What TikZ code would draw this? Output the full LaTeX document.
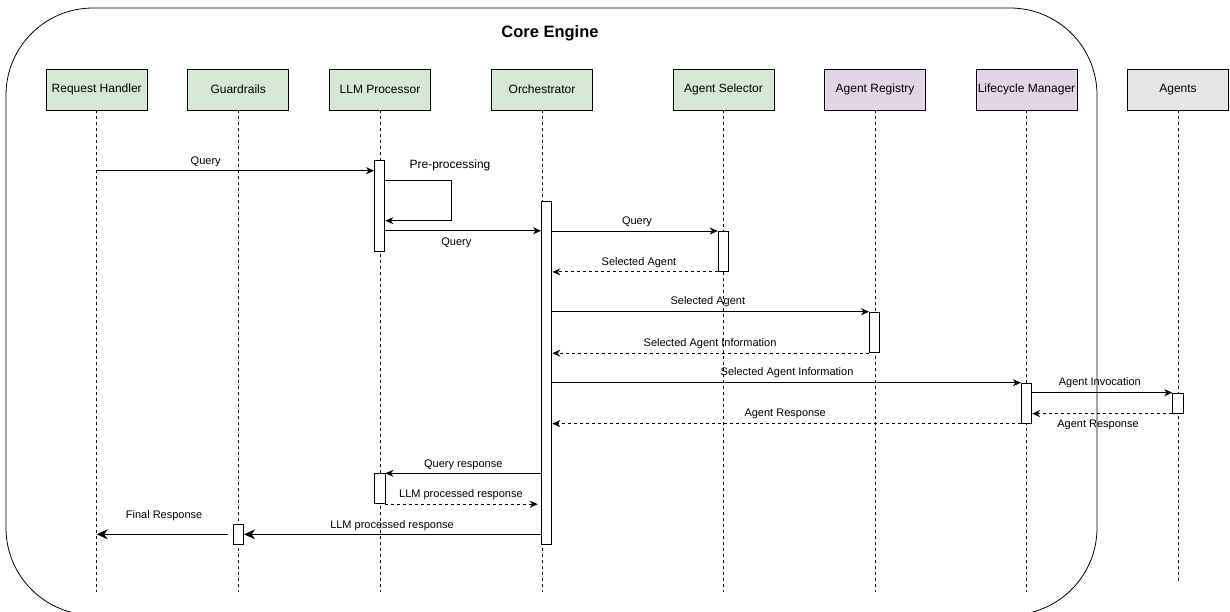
\documentclass[tikz,border=0pt]{standalone}
\usepackage{fontspec}
\setmainfont{Liberation Sans}
\usetikzlibrary{arrows.meta,
                positioning}
\definecolor{coregreen}{HTML}{D5E8D4}
\definecolor{mgmtpurple}{HTML}{E1D5E7}
\definecolor{extgray}{HTML}{E6E6E6}

\begin{document}
\begin{tikzpicture}[
x=1pt, y=-1pt, on grid,
line width=0.9pt,
actor/.style = {draw, minimum width=101pt, minimum height=41pt, inner sep=0pt,
                font=\fontsize{12}{14}\selectfont},
core/.style  = {actor, fill=coregreen},
mgmt/.style  = {actor, fill=mgmtpurple},
ext/.style   = {actor, fill=extgray},
life/.style  = {dash pattern=on 3pt off 3pt, line width=0.8pt},
act/.style   = {draw, fill=white, minimum width=10.3pt, inner sep=0pt, anchor=north},
msg/.style   = {-{Stealth[length=8pt, width=7pt, inset=2.5pt]}},
bigmsg/.style = {-{Stealth[length=11pt, width=10pt, inset=3.5pt]}},
reply/.style = {msg, dash pattern=on 3pt off 3pt},
lbl/.style   = {inner sep=0pt, font=\fontsize{11}{13}\selectfont}
                        ]
\useasboundingbox (0,0) rectangle (1230,611);
\node[draw, rounded corners=87pt, line width=0.8pt, minimum width=1091pt, minimum height=607pt]
    (engine) at (551.5,311.5) {};
\node[font=\bfseries\fontsize{16.5}{20}\selectfont] (title) at (550,33) {Core Engine};

\node[core] (rh) at (96.7,89.5) {Request Handler};
\node[core, right=141.5pt of rh] (guard) {Guardrails};
\node[core, right=141.8pt of guard] (llm) {LLM Processor};
\node[core, right=162pt of llm] (orch) {Orchestrator};
\node[core, right=181.5pt of orch] (sel) {Agent Selector};
\node[mgmt, right=151.5pt of sel] (reg) {Agent Registry};
\node[mgmt, right=151.5pt of reg] (lcm) {Lifecycle Manager};
\node[ext, right=151.5pt of lcm] (agt) {Agents};

\foreach \n in {rh,guard,llm,orch,sel,reg,lcm}
    \draw[life] (\n.south) -- (\n.south |- 0,591.7);
\draw[life] (agt.south) -- (agt.south |- 0,584);

\node[act, minimum height=91pt] (llmA) at (379.7,160) {};
\node[act, minimum height=343.6pt] (orchA) at (546.7,200.7) {};
\node[act, minimum height=40pt] (selA) at (723.3,231) {};
\node[act, minimum height=40.6pt] (regA) at (874.7,311.7) {};
\node[act, minimum height=40pt] (lcmA) at (1026.5,382.7) {};
\node[act, minimum height=20pt] (agtA) at (1177.9,392.7) {};
\node[act, minimum height=30pt] (llmB) at (379.8,473.3) {};
\node[act, minimum height=20.3pt] (guardA) at (238.5,524) {};

\draw[msg] (rh |- 0,170.7) -- (llmA.west |- 0,170.7)
    node[lbl, pos=.393, yshift=9pt] {Query};
\draw[msg] (llmA.east |- 0,180.7) -| ++(66,20) |- (llmA.east |- 0,220.7);
\node[lbl, font=\fontsize{12}{14}\selectfont] (pre) at (450,165) {Pre-processing};
\draw[msg] (llmA.east |- 0,230.7) -- (orchA.west |- 0,230.7)
    node[lbl, pos=.456, yshift=-11.6pt] {Query};
\draw[msg] (orchA.east |- selA.north) -- (selA.north west)
    node[lbl, pos=.512, yshift=9pt] {Query};
\draw[reply] (selA.south west) -- (orchA.east |- selA.south)
    node[lbl, pos=.476, yshift=9pt] {Selected Agent};
\draw[msg] (orchA.east |- regA.north) -- (regA.north west)
    node[lbl, pos=.491, yshift=10pt] {Selected Agent};
\draw[reply] (regA.south west) -- (orchA.east |- regA.south)
    node[lbl, pos=.502, yshift=9.3pt] {Selected Agent Information};
\draw[msg] (orchA.east |- lcmA.north) -- (lcmA.north west)
    node[lbl, pos=.501, yshift=9.7pt] {Selected Agent Information};
\draw[msg] (lcmA.east |- agtA.north) -- (agtA.north west)
    node[lbl, pos=.483, yshift=9.7pt] {Agent Invocation};
\draw[reply] (agtA.south west) -- (lcmA.east |- agtA.south)
    node[lbl, pos=.53, yshift=-11.3pt] {Agent Response};
\draw[reply] (lcmA.south west) -- (orchA.east |- lcmA.south)
    node[lbl, pos=.503, yshift=9.7pt] {Agent Response};
\draw[msg] (orchA.west |- llmB.north) -- (llmB.north east)
    node[lbl, pos=.5, yshift=9pt] {Query response};
\draw[reply, shorten >=3.4pt] (llmB.south east) -- (orchA.west |- llmB.south)
    node[lbl, pos=.485, yshift=9.3pt] {LLM processed response};
\draw[bigmsg] (orchA.west |- 0,534.3) -- (guardA.east |- 0,534.3)
    node[lbl, pos=.502, yshift=9pt] {LLM processed response};
\draw[bigmsg, shorten <=5pt] (guardA.west |- 0,534.3) -- (rh |- 0,534.3)
    node[lbl, pos=.505, yshift=19pt] {Final Response};
\end{tikzpicture}
\end{document}
